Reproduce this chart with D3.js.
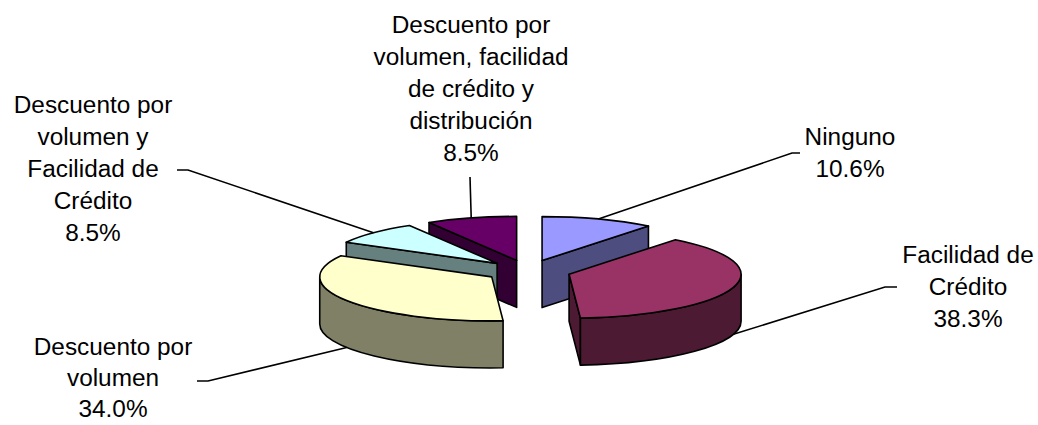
<!DOCTYPE html>
<html>
<head>
<meta charset="utf-8">
<script src="https://cdn.jsdelivr.net/npm/d3@7"></script>
<style>
  html, body { margin: 0; padding: 0; background: #fff; }
  svg { display: block; }
  text { font-family: "Liberation Sans", Arial, sans-serif; fill: #000; }
</style>
</head>
<body>
<svg id="chart" width="1038" height="425"></svg>
<script>
// Slice categories and their shares (%)
const categories = [
  "Ninguno",
  "Facilidad de Crédito",
  "Descuento por volumen",
  "Descuento por volumen y Facilidad de Crédito",
  "Descuento por volumen, facilidad de crédito y distribución"
];
const shares = [10.6, 38.3, 34.0, 8.5, 8.5];

// Label text broken into lines, per category
const labelLines = [
  ["Ninguno"],
  ["Facilidad de", "Crédito"],
  ["Descuento por", "volumen"],
  ["Descuento por", "volumen y", "Facilidad de", "Crédito"],
  ["Descuento por", "volumen, facilidad", "de crédito y", "distribución"]
];

// Face colours: top surface and darker side walls
const topColors  = ["#9999FF", "#993366", "#FFFFCC", "#CCFFFF", "#660066"];
const sideColors = ["#4D4D80", "#4D1A33", "#808066", "#668080", "#330033"];

// Label placement: centre x, first baseline, and the leader's elbow points
const labelX = [850, 968, 113, 93, 471];
const labelY = [145, 263, 355, 113, 33];
const lineGaps = [32, 32, 31, 32, 32];
const leaderStubs = [
  [[800, 153], [792, 153]],
  [[897, 287], [885, 287]],
  [[197, 381], [208, 381]],
  [[177, 170], [188, 170]],
  [[470, 177]]
];

// 3D pie geometry
const cx = 528, cy = 271;   // pie centre (top surface)
const rx = 172, ry = 44;    // ellipse radii of the tilted disc
const depth = 47;           // thickness
const explode = 43;         // radial offset of each slice
const k = ry / rx;
const fontSize = 23;
const textStretch = 1.06;

const svg = d3.select("#chart");
const pie = d3.pie().sort(null).value(d => d);
const arcs = pie(shares).map((a, i) => {
  const mid = (a.startAngle + a.endAngle) / 2;
  return {
    ...a, i, mid,
    ox: explode * Math.sin(mid),
    oy: -explode * k * Math.cos(mid)
  };
});

function rim(s, ang, h) {
  return [cx + s.ox + rx * Math.sin(ang), cy + s.oy - ry * Math.cos(ang) + (h || 0)];
}
function apex(s, h) {
  return [cx + s.ox, cy + s.oy + (h || 0)];
}
const pt = p => p[0].toFixed(2) + "," + p[1].toFixed(2);

function topPath(s) {
  const a0 = s.startAngle, a1 = s.endAngle;
  const large = (a1 - a0) > Math.PI ? 1 : 0;
  return `M${pt(apex(s))}L${pt(rim(s, a0))}A${rx},${ry} 0 ${large} 1 ${pt(rim(s, a1))}Z`;
}
function wallPath(s) {
  const b0 = Math.max(s.startAngle, Math.PI / 2);
  const b1 = Math.min(s.endAngle, 3 * Math.PI / 2);
  if (b1 <= b0) return null;
  return `M${pt(rim(s, b0))}A${rx},${ry} 0 0 1 ${pt(rim(s, b1))}` +
         `L${pt(rim(s, b1, depth))}A${rx},${ry} 0 0 0 ${pt(rim(s, b0, depth))}Z`;
}
function radialPath(s, ang) {
  return `M${pt(apex(s))}L${pt(rim(s, ang))}L${pt(rim(s, ang, depth))}L${pt(apex(s, depth))}Z`;
}

const strokeW = 1.6;
const gPie = svg.append("g");

// back slices first
const order = arcs.slice().sort((a, b) => a.oy - b.oy);
order.forEach(s => {
  const g = gPie.append("g");
  const faces = [];
  if (Math.sin(s.startAngle) < -1e-3) faces.push(radialPath(s, s.startAngle));
  if (Math.sin(s.endAngle) > 1e-3) faces.push(radialPath(s, s.endAngle));
  const w = wallPath(s);
  if (w) faces.push(w);
  faces.forEach(d => {
    g.append("path").attr("d", d)
      .attr("fill", sideColors[s.i])
      .attr("stroke", "#000").attr("stroke-width", strokeW)
      .attr("stroke-linejoin", "round");
  });
  g.append("path").attr("d", topPath(s))
    .attr("fill", topColors[s.i])
    .attr("stroke", "#000").attr("stroke-width", strokeW)
    .attr("stroke-linejoin", "round");
});

// leader lines: from the label elbow to the slice's rim at its mid angle
const fmt = d3.format(".1f");
arcs.forEach(s => {
  let anchor = rim(s, s.mid);
  if (Math.cos(s.mid) < 0) anchor = rim(s, s.mid, depth);
  const pts = leaderStubs[s.i].concat([anchor]);
  svg.append("path")
    .attr("d", d3.line()(pts))
    .attr("fill", "none")
    .attr("stroke", "#000")
    .attr("stroke-width", 1.6);
});

// labels: category lines plus the share
arcs.forEach(s => {
  const lines = labelLines[s.i].concat([fmt(s.data) + "%"]);
  const g = svg.append("g")
    .attr("transform", `translate(${labelX[s.i]},${labelY[s.i]}) scale(${textStretch},1)`);
  lines.forEach((t, j) => {
    g.append("text")
      .attr("x", 0).attr("y", j * lineGaps[s.i])
      .attr("text-anchor", "middle")
      .attr("font-size", fontSize)
      .text(t);
  });
});
</script>
</body>
</html>
